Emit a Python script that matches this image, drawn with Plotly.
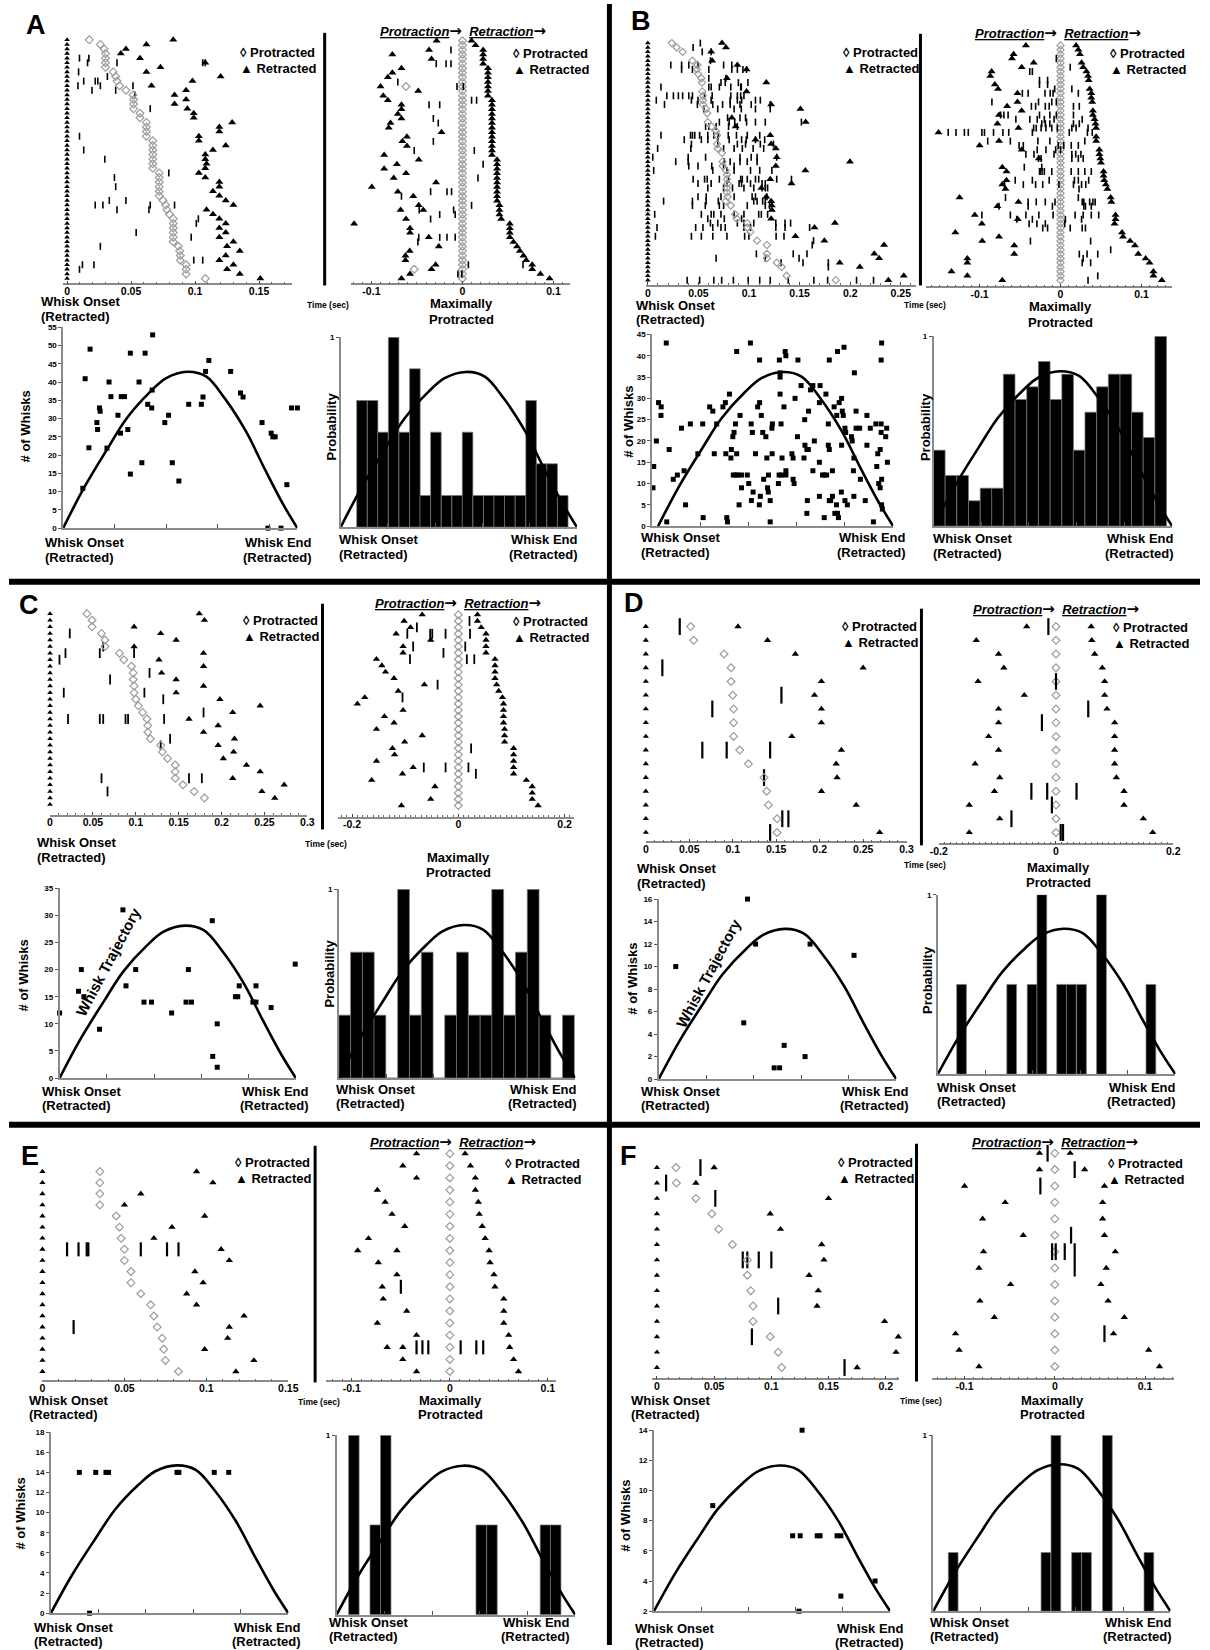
import plotly.graph_objects as go

W, H = 1210, 1650
FONT = "Liberation Sans Narrow, Liberation Sans, Arial, sans-serif"

# ---------- shared whisk-trajectory template (normalised) ----------
TRAJ_X = [0, 0.09, 0.19, 0.27, 0.37, 0.44, 0.53, 0.61, 0.69, 0.78, 0.86, 0.94, 1.0]
TRAJ_Y = [0, 0.26, 0.51, 0.70, 0.87, 0.96, 1.0, 0.97, 0.83, 0.62, 0.38, 0.15, 0]

# ====================== PANEL A ======================
A_L_PROT_MS = [17.4, 26, 29, 30, 30, 30, 30, 36, 38, 39, 41, 46, 51.5, 52, 52, 52, 57, 57, 62, 62, 62, 62,
               67, 67, 67, 67, 67, 67, 67, 72, 72, 72, 72, 72, 72, 75, 77, 78, 80, 83, 83, 83, 83, 83, 83,
               87, 88, 88.5, 88.5, 93, 93, 93, 108]
A_L_RET_MS = [83, 62, 46, 42, 57, 108, 73, 62, 120, 98, 66, 93, 84, 93, 84, 94, 99, 99, 129, 119, 119, 103,
              103, 124, 114, 108, 108, 109, 108, 103, 108, 119, 119, 114, 119, 124, 130, 109, 114, 119, 124,
              119, 124, 119, 130, 125, 135, 124, 119, 130, 125, 135, 151]
A_L_SPK = [(4, [9.7, 17]), (5, [16, 39, 106, 108]), (7, [9]), (8, [31.5]), (9, [13, 22, 24]),
           (10, [8.5, 26, 51.5]), (11, [19.5, 38]), (12, [53]), (15, [65]), (21, [9.7]), (24, [13]),
           (26, [29.5]), (29, [79.5]), (30, [37]), (32, [38]), (35, [33, 46]), (36, [22, 28, 65, 84]),
           (37, [39, 64]), (39, [102.6]), (40, [101]), (42, [54]), (43, [97]), (45, [26]), (48, [99, 106]),
           (49, [12, 21]), (50, [9.7])]
A_R_ON = [(0, -28.4), (2, -36.7), (3, -77), (4, -34), (6, -67), (7, -77), (8, -82), (10, -90), (11, -48.6),
          (12, -87), (13, -82), (14, -67), (15, -67), (16, -71), (17, -67), (18, -79), (19, -81), (20, -23),
          (21, -61), (22, -66), (23, -61), (25, -86), (26, -48), (27, -72), (28, -86), (29, -62), (30, -75.5),
          (31, -29), (32, -99.6), (33, -71), (34, -54), (36, -48), (37, -43), (37, -68), (39, -62), (40, -119),
          (41, -57.6), (42, -57.6), (43, -37), (45, -26), (46, -58), (47, -62.6), (48, -62.6), (49, -29.5),
          (50, -34), (51, -57.6), (52, -67)]
A_R_RET_MS = [10, 14.4, 22.7, 22.7, 22.7, 22.7, 28, 28, 28, 28, 28, 28, 28,
              32.4, 32.4, 32.4, 32.4, 32.4, 32.4, 32.4, 32.4, 32.4, 32.4, 32.4, 32.4, 32.4,
              38, 38, 38, 38, 38, 38, 38, 38, 38, 38, 40.6, 40.6, 40.6, 42.5, 52, 52, 52, 52,
              56, 60, 63, 67, 70, 76.6, 76.6, 85.6, 95.7]
A_R_SPK = [(2, [-12.6]), (5, [-28.8, -18, -12.6]), (9, [-71]), (10, [-6, 1]), (13, [10, 15.5]),
           (14, [-36.7, -25]), (17, [-32]), (18, [-26.6]), (22, [-32]), (24, [-53, 13]), (27, [22.7]),
           (30, [17]), (33, [-35, -17, -12]), (34, [-67]), (36, [10]), (37, [-47.5, -9.7]), (38, [-25, -8]),
           (39, [-35]), (43, [-48, -25, -17, -8]), (44, [-49]), (49, [6.5, 66.5]), (51, [-5, -0.7])]
A_R_XPROT = [(10, -62), (50, -53)]
A_S_PTS = [(0.084, 10.9), (0.094, 40.9), (0.110, 22), (0.115, 49), (0.144, 28.9), (0.147, 27), (0.155, 32.9),
           (0.158, 32), (0.187, 21.9), (0.196, 40), (0.204, 36), (0.234, 30.9), (0.248, 36), (0.262, 36),
           (0.245, 26), (0.276, 27), (0.287, 47.9), (0.287, 14.8), (0.324, 40), (0.336, 17.9), (0.350, 47.9),
           (0.361, 33.9), (0.378, 32.9), (0.382, 52.9), (0.380, 37.8), (0.434, 28.9), (0.450, 30.9),
           (0.466, 17.9), (0.494, 12.9), (0.536, 33.9), (0.590, 33.9), (0.597, 35.9), (0.608, 42.9),
           (0.622, 45.9), (0.715, 42.9), (0.757, 37), (0.768, 35.9), (0.849, 28.9), (0.888, 26), (0.895, 25),
           (0.905, 25), (0.874, 0), (0.930, 0), (0.955, 11.9), (0.975, 32.9), (1.0, 32.9)]
A_S_PEAK = 42.8
A_H_X = [0.090, 0.135, 0.179, 0.224, 0.269, 0.314, 0.358, 0.403, 0.448, 0.493, 0.537, 0.582, 0.627, 0.671,
         0.716, 0.761, 0.806, 0.850, 0.895, 0.940]
A_H_N = [4, 4, 3, 6, 3, 5, 1, 3, 1, 1, 3, 1, 1, 1, 1, 1, 4, 2, 2, 1]
A_H_W = 0.0447
A_H_PEAK = 0.817

# ====================== PANEL B ======================
B_L_PROT = [(0, 23.7), (1, 28.5), (2, 34.4), (4, 44.1), (5, 49), (6, 48.6), (7, 49.6), (8, 52.9), (9, 53.5),
            (11, 53.8), (12, 54.5), (13, 54.5), (14, 54.5), (15, 57.7), (16, 58.7), (18, 59.3), (19, 63.2),
            (20, 67.5), (21, 68.4), (23, 68.4), (24, 69.1), (25, 73.3), (27, 73.9), (28, 73.9), (29, 77.2),
            (30, 78.2), (31, 78.2), (32, 78.8), (33, 78.2), (34, 78.2), (35, 78.8), (36, 77.2), (37, 82),
            (39, 86.3), (40, 87.9), (41, 98.3), (42, 98.3), (43, 101.5), (45, 108), (46, 117.7), (48, 117.7),
            (49, 117.7), (50, 127.4), (51, 132.3), (53, 137.2), (54, 185.8)]
B_L_RET = [(0, 73.3), (1, 77.2), (2, 62.6), (4, 63.6), (5, 88.5), (6, 97.6), (8, 78.2), (9, 117.1), (11, 97.6),
           (14, 121.9), (15, 150.8), (17, 83), (18, 156), (19, 86.9), (21, 121), (22, 106.4), (23, 121.9),
           (24, 126.5), (26, 127.4), (27, 199.8), (28, 126.5), (29, 155.7), (31, 121), (32, 142), (33, 112.2),
           (35, 117.1), (36, 121.9), (37, 122.6), (38, 122.6), (40, 121.9), (41, 184.9), (42, 164.7),
           (44, 145.9), (45, 174.5), (46, 233.5), (48, 223.8), (49, 228.6), (50, 189.7), (51, 209.5),
           (53, 253), (54, 237.7)]
B_L_SPK = [(0, [51.9]), (1, [44.8]), (2, [53.8, 62.6]), (4, [61.9]), (5, [22.7, 33.4, 40.5, 49.6, 74.9, 83]),
           (6, [33.4, 44.1, 60.3, 83, 88.5, 94, 97.6]), (8, [60.3, 77.2]), (9, [72.3, 76.5, 89.5, 98.9]),
           (10, [13, 60.3, 62.6, 70.7, 82, 91.8, 92.4]),
           (12, [18.8, 25.3, 30.2, 34.4, 40.5, 44.1, 56.1, 63.6, 82, 88.5, 91.8, 95]),
           (13, [8.4, 43.1, 49.6, 62.6, 81.4, 88.5, 92.7, 106.4, 111.2]),
           (14, [16.5, 49, 64.2, 73.9, 81.4, 91.1, 102.2, 121]), (15, [55.5, 69.1, 85.3, 92.4, 106.4, 121]),
           (17, [78.8, 91.1, 96.6]), (18, [70.7, 80.4, 85.9, 97.6, 106.4, 116.1, 151.8]),
           (19, [57.1, 60.3, 67.5, 79.8, 88.5]),
           (21, [13, 42.2, 44.1, 46.4, 51.2, 59.3, 65.2, 69.7, 79.5, 87.6, 98.3, 110.6]),
           (22, [36, 52.9, 59.3, 69.1, 80.4, 92.7, 97.3, 106.4, 115.5]), (23, [43.1, 69.1, 88.5, 96.6, 111.2, 124.2]),
           (24, [9.7, 42.5, 74.9, 85.3, 93.4, 104.1, 114.5]), (26, [4.9, 39.9, 57.1, 91.1, 102.2, 108, 127.4]),
           (27, [27.6, 39.9, 75.6, 81.4, 91.1, 98.3, 108]), (28, [40.5, 49.6, 63.2, 74.9, 85.3]),
           (29, [5.8, 64.2, 78.2, 85.3, 101.5, 110.6, 122.6]),
           (31, [44.8, 56.1, 58.7, 70.7, 79.8, 91.8, 93.4, 98.3, 106.4, 109.6, 127.4, 142]),
           (32, [49.6, 62.6, 78.2, 90.2, 92.7, 101.5, 112.9, 116.1]),
           (33, [59.3, 74.9, 83.7, 95, 104.7, 112.9, 116.1, 118.4]),
           (35, [49.6, 57.7, 72.3, 85.3, 103.1, 106.4, 117.7]),
           (36, [15.6, 44.1, 57.7, 69.7, 104.7, 108, 113.5, 116.1]),
           (37, [44.1, 56.8, 70.7, 74.9, 98.3, 116.1, 120.3]),
           (39, [6.8, 52.9, 62.6, 65.2, 72.3, 85.3, 95, 109.6, 112.2, 118.4]), (40, [59.3, 75.6, 92.7]),
           (41, [61.9, 69.1, 88.5, 95, 104.7, 126.5, 135.6, 141.1]),
           (42, [9.1, 47.3, 54.5, 64.2, 72.3, 76.5, 95, 101.5, 126.5, 135.6, 159.9]),
           (44, [7.5, 43.1, 52.9, 64.2, 78.2, 95.7, 99.9, 126.8, 134.6]), (45, [163.8]), (46, [162.5]),
           (48, [107.3, 143.7, 157.3]), (49, [67.5, 116.1, 149.5]), (50, [131.7, 153.4, 178.4]), (51, [178.4]),
           (54, [38.9, 51.2, 65.2, 73, 84.6, 99.2, 110.6, 121, 138.8, 164.1, 177.7, 206.3, 223.1])]
B_R_ON = [(0, -42.8), (2, -58), (3, -60), (4, -33.2), (5, -48), (6, -85.2), (7, -86.8), (9, -81.2), (10, -77.2),
          (11, -53.2), (13, -53.2), (14, -66), (15, -48), (16, -76), (18, -78), (19, -52), (20, -150.8), (22, -76),
          (23, -100), (24, -48), (26, -26.8), (28, -72), (29, -66.8), (31, -66.8), (32, -72), (33, -68),
          (35, -124.8), (36, -52), (37, -78), (39, -106), (40, -52.8), (41, -97.2), (43, -130), (44, -76),
          (45, -96.8), (46, -57.2), (48, -57.2), (49, -115.2), (50, -115.2), (52, -134.8), (53, -115.2), (54, -72)]
B_R_RET = [(0, 19.2), (1, 22), (2, 24), (4, 26), (5, 28), (6, 32), (7, 34), (8, 34.8), (10, 36), (11, 38),
           (12, 38), (13, 39.2), (15, 40), (16, 40), (17, 42), (18, 43.2), (19, 44), (21, 44), (22, 44), (24, 48),
           (25, 48), (26, 49.2), (27, 50), (29, 53.2), (30, 53.2), (31, 54), (32, 56), (33, 58), (35, 62),
           (36, 62.8), (39, 68), (40, 68), (41, 66.8), (43, 76), (44, 77.2), (45, 86), (46, 92), (48, 96),
           (49, 105.2), (50, 110), (52, 114.8), (53, 114.8), (54, 125.2)]
B_R_SPK = [(3, [-5.2]), (5, [12]), (6, [-38, -34.8]), (8, [-26, -16]), (9, [-26, -16]), (10, [-7.2, 14]),
           (11, [-47.2, -40, -19.2, -12.8, -9.2, 22]), (13, [-84.8, -27.2, -10.8, -5.2]),
           (14, [-36, -30.8, -18.8, -14, 16, 23.2]), (16, [-74, -70, -64.8, -26, -13.2, -5.2, 16]),
           (17, [-55.2, -38, -28.8, -20, -8, 26.8]), (18, [-23.2, -18.8, -13.2, 16, 23.2]),
           (19, [-33.2, -30, -24, -18, -10.8, -4, 14, 19.2, 34]),
           (20, [-138.8, -129.2, -118.8, -114, -97.2, -94, -82.8, -71.2, -64, -34.8, 10.8, 33.2, 39.2]),
           (22, [-90, -62, -28, -13.2, 30]), (23, [-51.2, -46, -2.8, 4, 13.2, 22]), (24, [-28.8, -18, -6, 0]),
           (25, [-42.8, -32.8, -8, 14, 18.8, 25.2]), (26, [-27.2, -24, 14, 22, 28]), (28, [-44.8, -23.2]),
           (29, [-26, -25.2, -22.8, -20, -10.8, 13.2, 22, 30, 38]), (31, [-56, -34.8, -14, 17.2, 22, 34.8]),
           (32, [-69.2, -46, -30.8, -22, -2, 16, 26, 31.2]), (33, [22.8]), (35, [-68, 22]),
           (36, [-40, -30, -18.8, -6.8, 26.8, 28.8, 36, 40, 42.8]), (37, [-76, -40, -10, 28.8, 30.8, 38]),
           (39, [-97.2, -62, -42.8, -26.8, -9.2, 18, 28, 38, 47.2]), (40, [-54, -34.8, 6, 26]),
           (41, [-38.8, -29.2, -18.8, 5.2]), (42, [-22, -16, 12, 26.8, 30.8]), (45, [-37.2, 37.2]), (47, [62]),
           (48, [23.2, 32.8, 46]), (49, [28]), (50, [26.8, 37.2]), (53, [46]), (54, [34])]
B_S_PTS = [(0.004, 9), (0.007, 14), (0.018, 20), (0.027, 29), (0.038, 28), (0.037, 26), (0.059, 43), (0.061, 1),
           (0.071, 18), (0.088, 11), (0.105, 12), (0.122, 23), (0.133, 13), (0.139, 5), (0.159, 24), (0.190, 17),
           (0.210, 24), (0.212, 2), (0.239, 28), (0.252, 27), (0.258, 17), (0.268, 24), (0.294, 28), (0.304, 29),
           (0.306, 17), (0.310, 2), (0.313, 1), (0.321, 31), (0.327, 16), (0.329, 18), (0.335, 21), (0.340, 22),
           (0.346, 24), (0.351, 41), (0.351, 17), (0.361, 5), (0.365, 26), (0.371, 9), (0.337, 12), (0.347, 12),
           (0.356, 12), (0.371, 12), (0.395, 12), (0.401, 10), (0.408, 43), (0.411, 24), (0.412, 6), (0.416, 22),
           (0.419, 8), (0.429, 17), (0.438, 28), (0.446, 29), (0.445, 5), (0.446, 39), (0.449, 7), (0.453, 26),
           (0.459, 22), (0.463, 11), (0.472, 21), (0.476, 16), (0.479, 9), (0.482, 8), (0.483, 12), (0.490, 6),
           (0.490, 1), (0.497, 23), (0.499, 24), (0.498, 17), (0.524, 10), (0.527, 12), (0.537, 12), (0.555, 12),
           (0.528, 39), (0.531, 35), (0.531, 36), (0.531, 31), (0.539, 16), (0.547, 28), (0.552, 41), (0.555, 40),
           (0.555, 13), (0.535, 24), (0.580, 17), (0.585, 16), (0.585, 11), (0.589, 10), (0.593, 30), (0.605, 39),
           (0.603, 21), (0.618, 33), (0.630, 16), (0.633, 25), (0.634, 19), (0.642, 18), (0.648, 18), (0.642, 3),
           (0.644, 6), (0.649, 27), (0.657, 32), (0.667, 33), (0.667, 13), (0.673, 20), (0.694, 29), (0.697, 33),
           (0.694, 15), (0.694, 7), (0.707, 12), (0.714, 12), (0.724, 12), (0.714, 2), (0.721, 31), (0.731, 24),
           (0.735, 18), (0.735, 39), (0.731, 19), (0.735, 6), (0.741, 6), (0.748, 7), (0.748, 13), (0.755, 28),
           (0.758, 3), (0.769, 3), (0.773, 2), (0.765, 5), (0.769, 41), (0.766, 26), (0.776, 29), (0.786, 30),
           (0.789, 27), (0.786, 19), (0.785, 8), (0.796, 42), (0.793, 26), (0.800, 6), (0.803, 22), (0.810, 5),
           (0.800, 23), (0.827, 21), (0.830, 20), (0.835, 13), (0.837, 7), (0.837, 16), (0.839, 36), (0.846, 27),
           (0.846, 23), (0.861, 23), (0.864, 11), (0.884, 6), (0.891, 19), (0.891, 26), (0.905, 23), (0.918, 1),
           (0.928, 24), (0.932, 14), (0.936, 17), (0.940, 10), (0.946, 9), (0.946, 18), (0.950, 39), (0.950, 22),
           (0.952, 43), (0.950, 24), (0.952, 11), (0.952, 5), (0.955, 4), (0.969, 21), (0.973, 23), (0.976, 15)]
B_S_PEAK = 36.2
B_H_X = [0.024, 0.073, 0.122, 0.171, 0.220, 0.268, 0.317, 0.366, 0.415, 0.464, 0.513, 0.562, 0.610, 0.659,
         0.708, 0.757, 0.806, 0.854, 0.903, 0.952]
B_H_N = [6, 4, 4, 2, 3, 3, 12, 10, 11, 13, 10, 12, 6, 9, 11, 12, 12, 9, 7, 15]
B_H_W = 0.0488
B_H_PEAK = 0.815

# ====================== PANEL C ======================
C_L_PROT_MS = [43, 49, 49, 60, 64, 64, 81, 86, 95, 97, 97, 98, 98, 100, 103, 108, 113, 114, 114, 117, 129, 131,
               137, 146, 146, 146, 155, 168, 180]
C_L_RET_MS = [174, 180, 98, 129, 147, 98, 179, 127, 179, 130, 147, 179, 147, 198, 245, 213, 162, 196, 179, 215,
              196, 214, 202, 229, 245, 213, 273, 247, 262]
C_L_SPK = [(3, [23]), (5, [62]), (6, [18, 58, 98]), (7, [11]), (9, [116]), (10, [70]), (12, [16, 110]),
           (13, [132]), (15, [179]), (16, [21, 58, 62, 88, 91, 133]), (19, [140]), (20, [129]),
           (25, [60, 162, 177]), (27, [67])]
C_R_ON = [(0, -68), (1, -102), (2, -90), (3, -117), (4, -52), (5, -104), (6, -104), (7, -154), (8, -144),
          (9, -137), (10, -121), (11, -64), (12, -113), (13, -176), (14, -190), (15, -104), (16, -139), (17, -121),
          (18, -154), (19, -68), (20, -101), (21, -124), (22, -120), (23, -154), (24, -85), (25, -105), (26, -163),
          (27, -44), (29, -52), (30, -107)]
C_R_RET_MS = [36, 36, 43, 52, 52, 52, 52, 69, 69, 69, 69, 72, 76, 83, 85, 85, 85, 85, 87, 87, 87, 104, 104, 104,
              104, 104, 128, 139, 139, 139, 150]
C_R_SPK = [(1, [21]), (2, [-78]), (3, [-96, -53, -49, -24, 22]), (5, [-85, 13]), (6, [-28]), (7, [-91, 16, 30]),
           (11, [-39]), (13, [-105]), (21, [24]), (24, [-65, -24, 19]), (25, [33])]
C_S_PTS = [(0.0, 12), (0.08, 16), (0.092, 20), (0.103, 15), (0.169, 9), (0.268, 31), (0.281, 17), (0.322, 20),
           (0.357, 14), (0.389, 14), (0.474, 12), (0.535, 14), (0.558, 14), (0.545, 20), (0.646, 29), (0.667, 10),
           (0.648, 4), (0.667, 2), (0.744, 15), (0.754, 15), (0.76, 17), (0.818, 14), (0.831, 14), (0.831, 17),
           (0.895, 13), (0.997, 21)]
C_S_PEAK = 28.1
C_H_X = [0.025, 0.075, 0.125, 0.174, 0.224, 0.274, 0.324, 0.374, 0.423, 0.473, 0.523, 0.573, 0.623, 0.672,
         0.722, 0.772, 0.822, 0.872, 0.921, 0.971]
C_H_N = [1, 2, 2, 1, 0, 3, 1, 2, 0, 1, 2, 1, 1, 3, 1, 2, 3, 1, 0, 1]
C_H_W = 0.0498
C_H_PEAK = 0.81

# ====================== PANEL D ======================
D_L_PROT_MS = [51.5, 55, 90, 98, 98, 100, 101, 101, 101, 108, 118, 136, 139, 141, 151, 151]
D_L_RET = [(0, 106), (1, 140), (2, 172), (3, 250), (4, 202), (5, 194), (6, 202), (7, 202), (8, 168), (9, 225),
           (10, 219), (11, 220), (12, 202), (13, 242), (15, 269)]
D_L_SPK = [(0, [39]), (3, [19]), (5, [156]), (6, [76.5]), (9, [65, 93, 143]), (11, [136]), (14, [157, 164]),
           (15, [143])]
D_R_ON_MS = [-50, -136, -98, -89, -133, -54, -98, -98, -115, -98, -138, -96, -105, -148, -96, -148]
D_R_RET_MS = [60, 61, 66, 79, 83, 83, 87, 100, 100, 100, 100, 103, 116, 116, 149, 165]
D_R_SPK = [(0, [-13]), (4, [0]), (6, [55]), (7, [-24]), (12, [-42, -15, 35]), (13, [-7]), (14, [-76]),
           (15, [8, 12])]
D_S_PTS = [(0.072, 10), (0.374, 16), (0.408, 12), (0.637, 12), (0.822, 11), (0.358, 5), (0.528, 3), (0.616, 2),
           (0.486, 1), (0.509, 1)]
D_S_PEAK = 13.35
D_H_X = [0.100, 0.311, 0.397, 0.438, 0.521, 0.562, 0.605, 0.689, 0.897]
D_H_N = [1, 1, 1, 2, 1, 1, 1, 2, 1]
D_H_W = 0.041
D_H_PEAK = 0.81

# ====================== PANEL E ======================
E_L_PROT_MS = [35, 35, 35, 35, 45, 47, 48, 50, 50, 54, 54, 60, 66, 68, 70, 73, 74, 75, 83]
E_L_RET_MS = [94, 104, 60, 50, 99, 79, 68, 109, 114, 93, 98, 88, 94, 123, 114, 113, 99, 129, 118]
E_L_SPK = [(7, [15, 22, 27, 28, 60, 76, 83]), (14, [19])]
E_R_ON_MS = [-34, -48, -34, -74, -66, -59, -46, -83, -94, -73, -54, -69, -68, -44, -74, -34, -64, -48, -34]
E_R_XTRI = [(8, -54), (16, -48)]
E_R_RET_MS = [15.5, 21, 26, 26, 29, 30, 33, 36, 40, 41, 45, 46, 55, 55, 55, 60, 61, 65, 70]
E_R_SPK = [(11, [-50]), (16, [-34, -28, -22, 11, 27, 34])]
E_S_PTS = [(0.12, 14), (0.189, 14), (0.232, 14), (0.243, 14), (0.531, 14), (0.539, 14), (0.688, 14),
           (0.749, 14), (0.163, 0)]
E_S_PEAK = 14.7
E_H_X = [0.0725, 0.162, 0.206, 0.606, 0.651, 0.875, 0.918]
E_H_N = [2, 1, 2, 1, 1, 1, 1]
E_H_W = 0.044
E_H_PEAK = 0.83

# ====================== PANEL F ======================
F_L_PROT_MS = [16.6, 17, 34, 48, 54, 66, 79, 79, 82, 84, 84, 99, 106, 109]
F_L_RET_MS = [50, 34, 150, 99, 108, 144, 146, 133, 141, 140, 199, 211, 209, 175]
F_L_SPK = [(0, [38]), (1, [8]), (2, [51]), (6, [75, 79, 89, 100]), (9, [106]), (11, [83]), (13, [164])]
F_R_ON_MS = [-17, -17, -100, -55, -80, -35, -79, -84, -49, -83, -67, -110, -106, -84]
F_R_RET_MS = [17, 33, 55, 53, 53, 55, 67, 57, 51, 59, 77, 65, 104, 116]
F_R_SPK = [(0, [-8]), (1, [22]), (2, [-16]), (5, [18]), (6, [-3, 1, 11, 22]), (7, [22]), (11, [55])]
F_S_PTS = [(0.249, 9), (0.627, 14), (0.587, 7), (0.619, 7), (0.691, 7), (0.703, 7), (0.775, 7), (0.791, 7),
           (0.936, 4), (0.791, 3), (0.614, 2)]
F_S_PEAK = 11.66
F_H_X = [0.084, 0.475, 0.517, 0.604, 0.646, 0.734, 0.909]
F_H_N = [1, 1, 3, 1, 1, 3, 1]
F_H_W = 0.041
F_H_PEAK = 0.835

# ---------------------------------------------------------------------------
fig = go.Figure()
AX = {"n": 0}
ANN = []
SHP = []


def px2x(x):
    return x / W


def px2y(y):
    return 1 - y / H


def axes(x0, x1, ytop, ybot, xr, yr, xopts=None, yopts=None):
    AX["n"] += 1
    n = AX["n"]
    sx = "" if n == 1 else str(n)
    bx = dict(domain=[px2x(x0), px2x(x1)], range=xr, anchor="y" + sx, showgrid=False, zeroline=False,
              showline=False, ticks="", showticklabels=False, fixedrange=True)
    by = dict(domain=[px2y(ybot), px2y(ytop)], range=yr, anchor="x" + sx, showgrid=False, zeroline=False,
              showline=False, ticks="", showticklabels=False, fixedrange=True)
    bx.update(xopts or {})
    by.update(yopts or {})
    fig.update_layout({"xaxis" + sx: bx, "yaxis" + sx: by})
    return "x" + sx, "y" + sx


def tfont(size):
    return dict(family=FONT, size=size, color="black", weight="bold")


def txt(x, y, s, size=13, anchor="left", angle=0):
    ANN.append(dict(x=px2x(x), y=px2y(y), xref="paper", yref="paper", text=s, showarrow=False,
                    xanchor=anchor, yanchor="middle", textangle=angle,
                    font=dict(family=FONT, size=size, color="black")))


def fmt(v):
    return "0" if v == 0 else ("%g" % v)


def add_pts(xa, ya, xs, ys, symbol, size, color="black", lw=0):
    mk = dict(symbol=symbol, size=size, color=color)
    if symbol == "line-ns" or symbol.endswith("-open"):
        mk["line"] = dict(width=lw, color=color)
    fig.add_trace(go.Scatter(x=xs, y=ys, mode="markers", marker=mk, xaxis=xa, yaxis=ya,
                             showlegend=False, hoverinfo="skip", cliponaxis=False))


def raster(lay, n, col0, on, prot, ret, spk, ticks, sz, xprot=None, xtri=None):
    s = (lay["rbot"] - lay["rtop"]) / (n - 1)
    yr = [(lay["yax"] - lay["rtop"]) / s, (lay["ytop"] - lay["rtop"]) / s]
    xr = [(lay["x0"] - lay["zero"]) / lay["pps"], (lay["x1"] - lay["zero"]) / lay["pps"]]
    xo = dict(showline=True, linecolor="#8a8a8a", linewidth=1.5, ticks="inside", ticklen=3, tickwidth=1,
              tickcolor="#444", tickvals=ticks, ticktext=[fmt(v) for v in ticks], showticklabels=True,
              tickfont=tfont(10.5), ticklabelstandoff=-3,
              minor=dict(tickmode="linear", tick0=0, dtick=0.01, ticks="inside", ticklen=2, tickcolor="#666",
                         showgrid=False))
    xa, ya = axes(lay["x0"], lay["x1"], lay["ytop"], lay["yax"], xr, yr, xopts=xo)
    rows = list(range(n))
    if col0 == "tri":
        add_pts(xa, ya, [0] * n, rows, "triangle-up", sz["t0"])
    else:
        add_pts(xa, ya, [0] * n, rows, "diamond-open", sz["d"], color="#9c9c9c", lw=1.2)
    sr, st = [], []
    for r, lst in spk:
        for m in lst:
            sr.append(r)
            st.append(m / 1000)
    add_pts(xa, ya, st, sr, "line-ns", sz["sp"], lw=sz.get("spw", 1.8))
    if prot:
        add_pts(xa, ya, [m / 1000 for _, m in prot], [r for r, _ in prot], "diamond-open", sz["d"],
                color="#9c9c9c", lw=1.2)
    if xprot:
        add_pts(xa, ya, [m / 1000 for _, m in xprot], [r for r, _ in xprot], "diamond-open", sz["d"],
                color="#9c9c9c", lw=1.2)
    if on:
        add_pts(xa, ya, [m / 1000 for _, m in on], [r for r, _ in on], "triangle-up", sz["t1"])
    if xtri:
        add_pts(xa, ya, [m / 1000 for _, m in xtri], [r for r, _ in xtri], "triangle-up", sz["t1"])
    add_pts(xa, ya, [m / 1000 for _, m in ret], [r for r, _ in ret], "triangle-up", sz["t1"])


def scatter(lay, pts, peak, yr, dtick, xt, cx0=0.0):
    yvals = []
    v = yr[0]
    while v <= yr[1] + 1e-9:
        yvals.append(v)
        v += dtick
    xo = dict(showline=True, linecolor="#8a8a8a", linewidth=1.5, ticks="inside", ticklen=4, tickcolor="#555",
              tickvals=xt)
    yo = dict(showline=True, linecolor="#8a8a8a", linewidth=1.5, ticks="outside", ticklen=3, tickcolor="#555",
              tickvals=yvals, ticktext=[str(int(t)) for t in yvals], showticklabels=True, tickfont=tfont(8))
    xa, ya = axes(lay["x0"], lay["x1"], lay["ytop"], lay["ybot"], [0, 1], yr, xopts=xo, yopts=yo)
    fig.add_trace(go.Scatter(x=[cx0 + t * (1 - cx0) for t in TRAJ_X],
                             y=[yr[0] + t * (peak - yr[0]) for t in TRAJ_Y], mode="lines",
                             line=dict(color="black", width=2.6, shape="spline", smoothing=1.0),
                             xaxis=xa, yaxis=ya, showlegend=False, hoverinfo="skip"))
    add_pts(xa, ya, [p[0] for p in pts], [p[1] for p in pts], "square", 5)


def hist(lay, centers, counts, bw, peak):
    m = max(counts)
    xo = dict(showline=True, linecolor="#8a8a8a", linewidth=1.5, ticks="inside", ticklen=4, tickcolor="#555",
              tickvals=[0.2, 0.4, 0.6, 0.8])
    yo = dict(showline=True, linecolor="#8a8a8a", linewidth=1.5, ticks="outside", ticklen=3, tickcolor="#555",
              tickvals=[1], ticktext=["1"], showticklabels=True, tickfont=tfont(8))
    xa, ya = axes(lay["x0"], lay["x1"], lay["ytop"], lay["ybot"], [0, 1], [0, 1], xopts=xo, yopts=yo)
    fig.add_trace(go.Bar(x=centers, y=[c / m for c in counts], width=[bw] * len(centers),
                         marker=dict(color="black", line=dict(color="#7a7a7a", width=0.7)),
                         xaxis=xa, yaxis=ya, showlegend=False, hoverinfo="skip"))
    fig.add_trace(go.Scatter(x=TRAJ_X, y=[t * peak for t in TRAJ_Y], mode="lines",
                             line=dict(color="black", width=2.6, shape="spline", smoothing=1.0),
                             xaxis=xa, yaxis=ya, showlegend=False, hoverinfo="skip"))


ARROW = '<span style="font-family:DejaVu Sans;font-size:15px;font-weight:bold;font-style:normal">→</span>'


def texts(P, lh, letter, olh=None):
    olh = olh or lh
    txt(P["letter"][0], P["letter"][1], "<b>%s</b>" % letter, size=27, anchor="center")
    for key in ("legL", "legR"):
        x, y = P[key]
        txt(x, y, "<b>◊ Protracted</b>", size=13)
        txt(x, y + 16, "<b>▲ Retracted</b>", size=13)
    hx, hy = P["header"]
    txt(hx, hy, "<b><i><u>Protraction</u></i>%s  <i><u>Retraction</u></i>%s</b>" % (ARROW, ARROW), size=13,
        anchor="center")
    ox, oy = P["onset"]
    txt(ox, oy, "<b>Whisk Onset</b>", size=13)
    txt(ox, oy + olh, "<b>(Retracted)</b>", size=13)
    txt(P["time"][0], P["time"][1], "<b>Time (sec)</b>", size=8.5, anchor="center")
    mx, my = P["maxp"]
    txt(mx, my, "<b>Maximally</b>", size=13, anchor="center")
    txt(mx, my + lh, "<b>Protracted</b>", size=13, anchor="center")
    txt(P["sy"][0], P["sy"][1], "<b># of Whisks</b>", size=13, anchor="center", angle=-90)
    for (xl, xr_, yb) in (P["sbot"], P["hbot"]):
        txt(xl, yb, "<b>Whisk Onset</b>", size=13)
        txt(xl, yb + lh, "<b>(Retracted)</b>", size=13)
        txt(xr_, yb, "<b>Whisk End</b>", size=13, anchor="right")
        txt(xr_, yb + lh, "<b>(Retracted)</b>", size=13, anchor="right")
    if P.get("hy"):
        txt(P["hy"][0], P["hy"][1], "<b>Probability</b>", size=13, anchor="center", angle=-90)
    if P.get("traj"):
        txt(P["traj"][0], P["traj"][1], "<b>Whisk Trajectory</b>", size=15, anchor="center", angle=-62)
    vx, v0, v1 = P["vline"]
    SHP.append(dict(type="line", xref="paper", yref="paper", x0=px2x(vx), x1=px2x(vx), y0=px2y(v0),
                    y1=px2y(v1), line=dict(color="black", width=3)))


def full(rows, ms):
    return list(zip(rows, ms))


SMALL = dict(t0=5, t1=7, d=6, sp=5, spw=1.6)

# ---------- panel A ----------
PA = dict(L=dict(x0=55, x1=288, zero=59, pps=1300, rtop=36, rbot=276, yax=281, ytop=28),
          R=dict(x0=347, x1=570, zero=460.7, pps=925, rtop=37, rbot=276, yax=281, ytop=28),
          S=dict(x0=55, x1=293, ytop=325, ybot=527), H=dict(x0=337, x1=577, ytop=335, ybot=526),
          vline=(320.7, 29, 283), letter=(27, 21), legL=(233, 49), legR=(510, 50), header=(461, 27),
          onset=(30, 299.5), time=(324, 303), maxp=(460, 301), sy=(17, 425), sbot=(35, 310, 541),
          hy=(328, 425), hbot=(333, 580, 538))
nA = len(A_L_PROT_MS)
raster(PA["L"], nA, "tri", None, full(range(nA), A_L_PROT_MS), full(range(nA), A_L_RET_MS), A_L_SPK,
       [0, 0.05, 0.1, 0.15], SMALL)
raster(PA["R"], len(A_R_RET_MS), "dia", A_R_ON, None, full(range(len(A_R_RET_MS)), A_R_RET_MS), A_R_SPK,
       [-0.1, 0, 0.1], SMALL, xprot=A_R_XPROT)
scatter(PA["S"], A_S_PTS, A_S_PEAK, [0, 55], 5, [0.22, 0.44, 0.66, 0.88])
hist(PA["H"], A_H_X, A_H_N, A_H_W, A_H_PEAK)
texts(PA, 16, "A", olh=14.5)

# ---------- panel B ----------
PB = dict(L=dict(x0=647, x1=921, zero=649, pps=1028, rtop=39.3, rbot=277.7, yax=282.7, ytop=30),
          R=dict(x0=931.7, x1=1181.7, zero=1068.3, pps=822, rtop=41.7, rbot=277.7, yax=284, ytop=30),
          S=dict(x0=653.3, x1=898.3, ytop=332.3, ybot=525), H=dict(x0=939.3, x1=1181.7, ytop=334, ybot=525),
          vline=(926, 30, 283), letter=(642, 17), legL=(845, 49), legR=(1117, 50), header=(1066, 29),
          onset=(635, 303), time=(931, 303), maxp=(1068, 304), sy=(630, 420), sbot=(640, 913, 536),
          hy=(931, 425), hbot=(937, 1186, 537))
raster(PB["L"], 55, "tri", None, B_L_PROT, B_L_RET, B_L_SPK, [0, 0.05, 0.1, 0.15, 0.2, 0.25],
       dict(t0=5, t1=7, d=5.5, sp=5, spw=1.6))
raster(PB["R"], 55, "dia", B_R_ON, None, B_R_RET, B_R_SPK, [-0.1, 0, 0.1],
       dict(t0=5, t1=7, d=5.5, sp=5, spw=1.6))
scatter(PB["S"], B_S_PTS, B_S_PEAK, [0, 45], 5, [0.2, 0.4, 0.6, 0.8], cx0=0.025)
hist(PB["H"], B_H_X, B_H_N, B_H_W, B_H_PEAK)
texts(PB, 16, "B", olh=14)

# ---------- panel C ----------
PC = dict(L=dict(x0=41.7, x1=303.1, zero=41.7, pps=871.3, rtop=613, rbot=805, yax=815, ytop=598),
          R=dict(x0=334, x1=574.5, zero=456.5, pps=540, rtop=614, rbot=806, yax=817, ytop=598),
          S=dict(x0=51.4, x1=291.5, ytop=889, ybot=1080), H=dict(x0=335, x1=575.3, ytop=890, ybot=1080),
          vline=(318.5, 603, 830), letter=(20, 604), legL=(235.5, 620), legR=(509.7, 621), header=(456.5, 602),
          onset=(26, 843), time=(322, 845), maxp=(456.5, 858), sy=(15, 977), sbot=(31, 307, 1093),
          hy=(326, 975), hbot=(330, 579, 1091), traj=(101, 963))
MID = dict(t0=5, t1=6.5, d=6, sp=7, spw=1.8)
raster(PC["L"], 30, "tri", None, full(range(len(C_L_PROT_MS)), C_L_PROT_MS),
       full(range(len(C_L_RET_MS)), C_L_RET_MS), C_L_SPK, [0, 0.05, 0.1, 0.15, 0.2, 0.25, 0.3], MID)
raster(PC["R"], len(C_R_RET_MS), "dia", C_R_ON, None, full(range(len(C_R_RET_MS)), C_R_RET_MS), C_R_SPK,
       [-0.2, 0, 0.2], MID)
scatter(PC["S"], C_S_PTS, C_S_PEAK, [0, 35], 5, [0.2, 0.4, 0.6, 0.8])
hist(PC["H"], C_H_X, C_H_N, C_H_W, C_H_PEAK)
texts(PC, 15, "C")

# ---------- panel D ----------
PD = dict(L=dict(x0=647, x1=912, zero=647, pps=883, rtop=626, rbot=833, yax=842, ytop=608),
          R=dict(x0=944.6, x1=1182.8, zero=1063.7, pps=595.5, rtop=626, rbot=833, yax=844, ytop=608),
          S=dict(x0=660, x1=901.5, ytop=900, ybot=1081), H=dict(x0=943.6, x1=1185, ytop=895.6, ybot=1076),
          vline=(927, 608, 846), letter=(635, 602), legL=(844, 626), legR=(1120, 627), header=(1064, 608.6),
          onset=(636, 869), time=(931, 866), maxp=(1066, 868), sy=(634, 980), sbot=(640, 916, 1093),
          hy=(933, 981), hbot=(941, 1188, 1089), traj=(711, 974))
BIG = dict(t0=5.5, t1=6.5, d=6, sp=12, spw=2.2)
nD = len(D_L_PROT_MS)
raster(PD["L"], nD, "tri", None, full(range(nD), D_L_PROT_MS), D_L_RET, D_L_SPK,
       [0, 0.05, 0.1, 0.15, 0.2, 0.25, 0.3], BIG)
raster(PD["R"], nD, "dia", full(range(nD), D_R_ON_MS), None, full(range(nD), D_R_RET_MS), D_R_SPK,
       [-0.2, 0, 0.2], BIG)
scatter(PD["S"], D_S_PTS, D_S_PEAK, [0, 16], 2, [0.2, 0.4, 0.6, 0.8])
hist(PD["H"], D_H_X, D_H_N, D_H_W, D_H_PEAK)
texts(PD, 15, "D")

# ---------- panel E ----------
PE = dict(L=dict(x0=34, x1=283.8, zero=34, pps=1665, rtop=1174, rbot=1375, yax=1384, ytop=1150),
          R=dict(x0=322, x1=556, zero=447.9, pps=996, rtop=1156, rbot=1375, yax=1384, ytop=1146),
          S=dict(x0=42.5, x1=283.8, ytop=1436, ybot=1618), H=dict(x0=332.8, x1=575.3, ytop=1439, ybot=1619.6),
          vline=(311, 1148, 1386), letter=(21, 1158), legL=(228, 1165), legR=(502, 1166), header=(450.6, 1144.5),
          onset=(18.5, 1404), time=(314.5, 1406), maxp=(449, 1404), sy=(12, 1518), sbot=(23, 299, 1632),
          hy=None, hbot=(323, 572, 1627))
nE = len(E_L_PROT_MS)
raster(PE["L"], nE, "tri", None, full(range(nE), E_L_PROT_MS), full(range(nE), E_L_RET_MS), E_L_SPK,
       [0, 0.05, 0.1, 0.15], dict(t0=5.5, t1=6.5, d=6, sp=10, spw=2.2))
raster(PE["R"], nE, "dia", full(range(nE), E_R_ON_MS), None, full(range(nE), E_R_RET_MS), E_R_SPK,
       [-0.1, 0, 0.1], dict(t0=5.5, t1=6.5, d=6, sp=10, spw=2.2), xtri=E_R_XTRI)
scatter(PE["S"], E_S_PTS, E_S_PEAK, [0, 18], 2, [0.2, 0.4, 0.6, 0.8])
hist(PE["H"], E_H_X, E_H_N, E_H_W, E_H_PEAK)
texts(PE, 14, "E")

# ---------- panel F ----------
PF = dict(L=dict(x0=653.3, x1=904.2, zero=658.3, pps=1162, rtop=1170, rbot=1371, yax=1382, ytop=1150),
          R=dict(x0=937.8, x1=1184, zero=1062.5, pps=917, rtop=1155.5, rbot=1370, yax=1382, ytop=1146),
          S=dict(x0=655.2, x1=895.3, ytop=1434, ybot=1616), H=dict(x0=939, x1=1180, ytop=1439, ybot=1616),
          vline=(922, 1146, 1385), letter=(629, 1158), legL=(840, 1165), legR=(1115, 1166), header=(1063, 1144.5),
          onset=(630, 1404), time=(926.5, 1405), maxp=(1060.6, 1404), sy=(627, 1520), sbot=(634, 911, 1633),
          hy=None, hbot=(934, 1184, 1627))
nF = len(F_L_PROT_MS)
raster(PF["L"], nF, "tri", None, full(range(nF), F_L_PROT_MS), full(range(nF), F_L_RET_MS), F_L_SPK,
       [0, 0.05, 0.1, 0.15, 0.2], BIG)
raster(PF["R"], nF, "dia", full(range(nF), F_R_ON_MS), None, full(range(nF), F_R_RET_MS), F_R_SPK,
       [-0.1, 0, 0.1], BIG)
scatter(PF["S"], F_S_PTS, F_S_PEAK, [2, 14], 2, [0.2, 0.4, 0.6, 0.8])
hist(PF["H"], F_H_X, F_H_N, F_H_W, F_H_PEAK)
texts(PF, 14, "F")

# ---------- thick panel separators ----------
for yy in (581, 1127):
    SHP.append(dict(type="line", xref="paper", yref="paper", x0=0, x1=1, y0=px2y(yy), y1=px2y(yy),
                    line=dict(color="black", width=6)))
SHP.append(dict(type="line", xref="paper", yref="paper", x0=px2x(610), x1=px2x(610), y0=0, y1=1,
                line=dict(color="black", width=5)))

fig.update_layout(width=W, height=H, margin=dict(l=0, r=0, t=0, b=0), paper_bgcolor="white",
                  plot_bgcolor="rgba(0,0,0,0)", barmode="overlay", showlegend=False,
                  annotations=ANN, shapes=SHP, font=dict(family=FONT, color="black"))

fig.write_html("out.html", config={"displayModeBar": False},
               post_script="document.body.style.margin='0';document.body.style.overflow='hidden';")
